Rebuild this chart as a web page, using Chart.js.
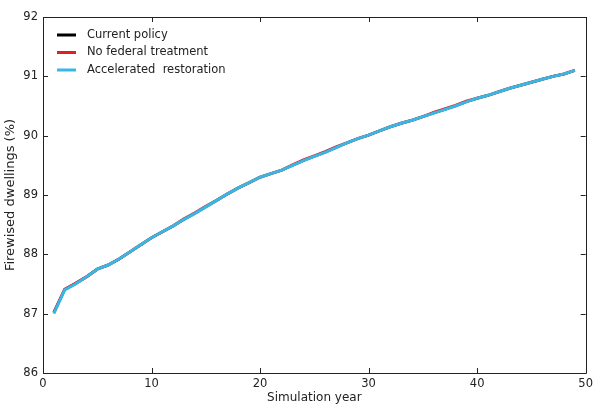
<!DOCTYPE html>
<html>
<head>
<meta charset="utf-8">
<script src="https://cdn.jsdelivr.net/npm/chart.js@4/dist/chart.umd.min.js"></script>
<style>
  html, body { margin: 0; padding: 0; background: #fff; }
  #wrap { width: 597px; height: 406px; }
</style>
</head>
<body>
<div id="wrap"><canvas id="chartDwellings"></canvas></div>
<script>
// simulation years 1..49
var years = [];
for (var i = 1; i <= 49; i++) years.push(i);

var currentPolicy = [87.02, 87.41, 87.51, 87.62, 87.75, 87.82, 87.92, 88.04, 88.16, 88.28,
    88.38, 88.48, 88.59, 88.69, 88.80, 88.91, 89.02, 89.12, 89.21, 89.30,
    89.36, 89.42, 89.50, 89.58, 89.65, 89.72, 89.80, 89.88, 89.95, 90.01,
    90.08, 90.15, 90.21, 90.26, 90.32, 90.38, 90.44, 90.50, 90.57, 90.63,
    90.68, 90.74, 90.80, 90.85, 90.90, 90.95, 91.00, 91.04, 91.10];

var noFederal = [87.02, 87.41, 87.51, 87.62, 87.75, 87.82, 87.92, 88.04, 88.16, 88.28,
    88.38, 88.48, 88.60, 88.70, 88.81, 88.91, 89.02, 89.12, 89.21, 89.30,
    89.36, 89.42, 89.51, 89.59, 89.66, 89.73, 89.81, 89.88, 89.95, 90.01,
    90.08, 90.15, 90.21, 90.26, 90.32, 90.39, 90.45, 90.51, 90.58, 90.63,
    90.68, 90.74, 90.80, 90.85, 90.90, 90.95, 91.00, 91.04, 91.10];

var accelerated = [87.00, 87.40, 87.50, 87.62, 87.75, 87.82, 87.92, 88.04, 88.16, 88.28,
    88.38, 88.48, 88.59, 88.69, 88.80, 88.91, 89.02, 89.12, 89.21, 89.30,
    89.36, 89.42, 89.50, 89.58, 89.65, 89.72, 89.80, 89.88, 89.95, 90.01,
    90.08, 90.15, 90.21, 90.26, 90.32, 90.38, 90.44, 90.50, 90.57, 90.63,
    90.68, 90.74, 90.80, 90.85, 90.90, 90.95, 91.00, 91.04, 91.10];

var xTicks = [0, 10, 20, 30, 40, 50];
var yTicks = [86, 87, 88, 89, 90, 91, 92];

function toPoints(arr) {
    return arr.map(function(v, i) { return { x: years[i], y: v }; });
}

var axisColor = '#222';
var fontFamily = 'DejaVu Sans';

// box around the plot, inward ticks on all sides, legend inside plot
var framePlugin = {
    id: 'frame',
    afterDraw: function(chart) {
        var ctx = chart.ctx, a = chart.chartArea;
        var xs = chart.scales.x, ys = chart.scales.y;
        ctx.save();
        ctx.strokeStyle = axisColor;
        ctx.lineWidth = 1;
        ctx.beginPath();
        ctx.rect(Math.round(a.left) + 0.5, Math.round(a.top) + 0.5,
                 Math.round(a.right - a.left), Math.round(a.bottom - a.top));
        xTicks.forEach(function(t) {
            var px = Math.round(xs.getPixelForValue(t)) + 0.5;
            ctx.moveTo(px, a.bottom); ctx.lineTo(px, a.bottom - 5);
            ctx.moveTo(px, a.top); ctx.lineTo(px, a.top + 5);
        });
        yTicks.forEach(function(t) {
            var py = Math.round(ys.getPixelForValue(t)) + 0.5;
            ctx.moveTo(a.left, py); ctx.lineTo(a.left + 5, py);
            ctx.moveTo(a.right, py); ctx.lineTo(a.right - 5, py);
        });
        ctx.stroke();

        // legend, listed in dataset order
        ctx.font = '11.5px ' + fontFamily;
        ctx.textBaseline = 'middle';
        ctx.textAlign = 'left';
        chart.data.datasets.forEach(function(ds, i) {
            var y = a.top + 18 + i * 17.5;
            ctx.strokeStyle = ds.borderColor;
            ctx.lineWidth = 3;
            ctx.beginPath();
            ctx.moveTo(a.left + 14, y); ctx.lineTo(a.left + 33, y);
            ctx.stroke();
            ctx.fillStyle = '#222';
            ctx.fillText(ds.label, a.left + 44, y);
        });
        ctx.restore();
    }
};

var ctx = document.getElementById('chartDwellings');
var myChartDwellings = new Chart(ctx, {
    type: 'line',
    data: {
        datasets: [{
            label: 'Current policy',
            data: toPoints(currentPolicy),
            borderColor: '#000000',
            borderWidth: 2.5,
            pointRadius: 0,
            tension: 0,
            order: 2,
            },{
            label: 'No federal treatment',
            data: toPoints(noFederal),
            borderColor: '#dd1f26',
            borderWidth: 3,
            pointRadius: 0,
            tension: 0,
            order: 1,
            },{
            label: 'Accelerated  restoration',
            data: toPoints(accelerated),
            borderColor: '#38b6e4',
            borderWidth: 3,
            pointRadius: 0,
            tension: 0,
            order: 0,
            }
        ]
    },
    plugins: [framePlugin],
    options: {
        responsive: true,
        maintainAspectRatio: false,
        animation: false,
        layout: {
            padding: { left: 0, right: 8, top: 17, bottom: 0 }
        },
        plugins: {
            legend: { display: false },
            tooltip: { enabled: false },
        },
        scales: {
            x: {
                type: 'linear',
                min: 0,
                max: 50,
                afterFit: function(s) { s.height = 33; },
                afterBuildTicks: function(s) { s.ticks = xTicks.map(function(v) { return { value: v }; }); },
                grid: { display: false, drawTicks: false },
                border: { display: false },
                ticks: {
                    padding: 4,
                    color: '#222',
                    maxRotation: 0,
                    font: { family: fontFamily, size: 11.5 }
                },
                title: {
                    display: true,
                    text: 'Simulation year',
                    color: '#222',
                    padding: { top: 0, bottom: 1 },
                    font: { family: fontFamily, size: 12 }
                }
            },
            y: {
                type: 'linear',
                min: 86,
                max: 92,
                afterFit: function(s) { s.width = 43; },
                afterBuildTicks: function(s) { s.ticks = yTicks.map(function(v) { return { value: v }; }); },
                grid: { display: false, drawTicks: false },
                border: { display: false },
                ticks: {
                    padding: 5,
                    color: '#222',
                    font: { family: fontFamily, size: 11.5 }
                },
                title: {
                    display: true,
                    text: 'Firewised dwellings (%)',
                    color: '#222',
                    padding: { top: 3, bottom: 0 },
                    font: { family: fontFamily, size: 13 }
                }
            }
        }
    }
});
</script>
</body>
</html>
